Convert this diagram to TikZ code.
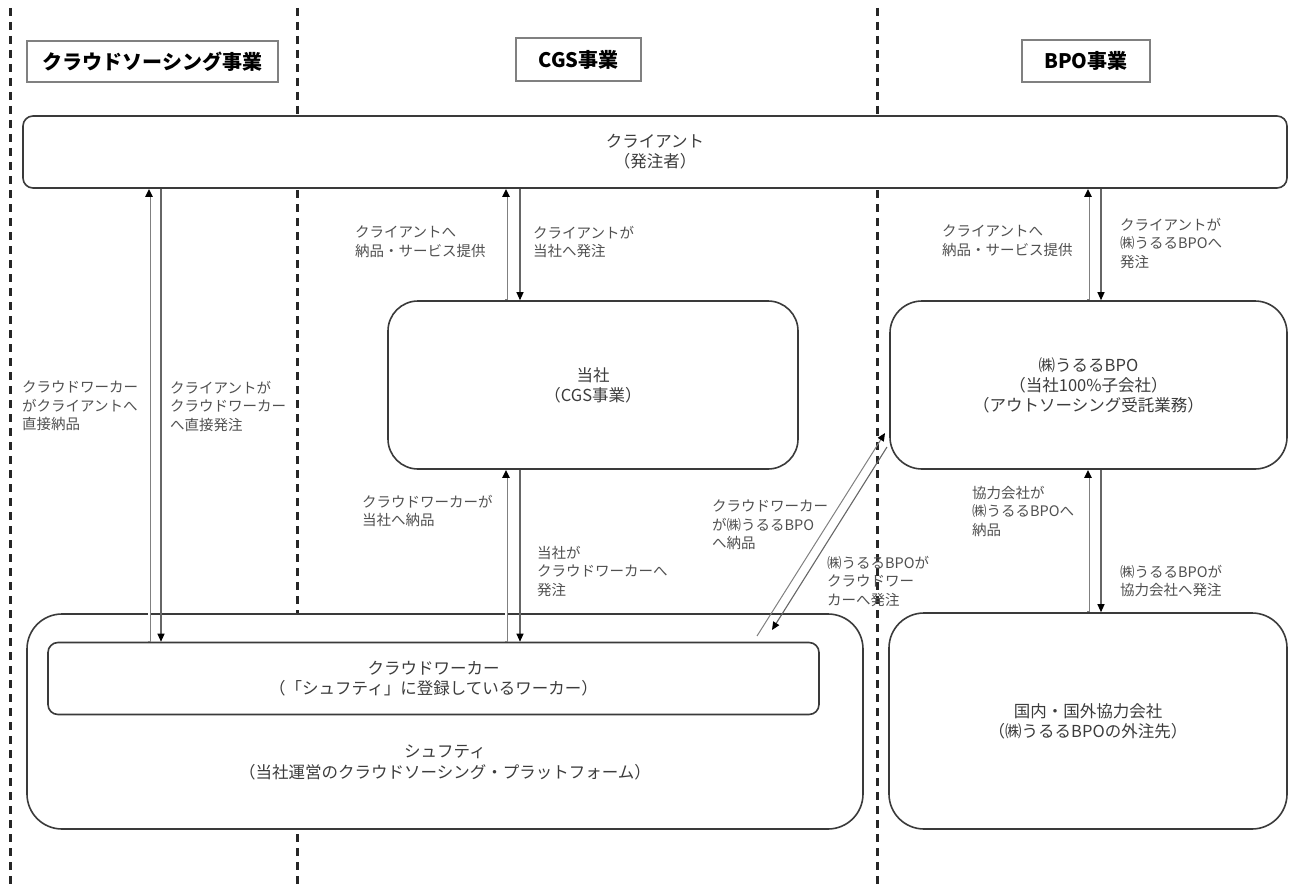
\documentclass[tikz,border=0pt]{standalone}
\usepackage{fontspec}
\setmainfont{Noto Sans CJK JP}
\usetikzlibrary{arrows.meta}
\definecolor{txtgray}{HTML}{505050}
\definecolor{boxtxt}{HTML}{3C3C3C}
\definecolor{lineg}{HTML}{3A3A3A}
\begin{document}
\begin{tikzpicture}[x=1pt,y=-1pt,
  lane/.style={line width=3, dash pattern=on 8 off 6, black!85},
  titlebox/.style={draw=black!50, line width=1.2, fill=white, font=\fontsize{20}{24}\selectfont\bfseries, inner sep=0},
  box/.style={draw=lineg, line width=1.6, fill=white, font=\fontsize{16.5}{20}\selectfont, text=boxtxt, align=center, inner sep=0},
  btext/.style={font=\fontsize{16.5}{21}\selectfont, text=boxtxt, align=center, inner sep=0},
  lbl/.style={font=\fontsize{14.5}{18.5}\selectfont, text=txtgray, align=left, inner sep=0, anchor=north west},
  uparr/.style={draw=black!50, line width=3, -{Triangle[length=8,width=7,black]}, postaction={draw=white, line width=1.1, arrows=-, shorten >=8, shorten <=1}},
  dnarr/.style={draw=black!60, line width=1.1, -{Triangle[length=8,width=7,black]}},
  diagup/.style={draw=black!50, line width=1, -{Triangle[length=8,width=7,black]}},
]
\useasboundingbox (0,0) rectangle (1293,888);
% lane separators
\draw[lane] (10,8) -- (10,888);
\draw[lane] (297,8) -- (297,888);
\draw[lane] (877,8) -- (877,888);

% titles
\node[titlebox, minimum width=251, minimum height=41] (t1) at (152.5,61.5) {クラウドソーシング事業};
\node[titlebox, minimum width=125, minimum height=43] (t2) at (578.5,59.5) {CGS事業};
\node[titlebox, minimum width=128, minimum height=42] (t3) at (1086,61) {BPO事業};

% boxes
\node[box, rounded corners=10, minimum width=1264, minimum height=72] (client) at (655,152) {クライアント\\（発注者）};
\node[box, rounded corners=30, minimum width=410, minimum height=168] (tosha) at (593,385) {当社\\（CGS事業）};
\node[box, rounded corners=32, minimum width=397, minimum height=168] (bpo) at (1088.5,385) {㈱うるるBPO\\（当社100\%子会社）\\（アウトソーシング受託業務）};
\node[box, rounded corners=35, minimum width=836, minimum height=215] (shufti) at (445,721.5) {};
\node[btext] (shuftitext) at (445,762.5) {シュフティ\\（当社運営のクラウドソーシング・プラットフォーム）};
\node[box, rounded corners=10, minimum width=771, minimum height=72] (worker) at (433.5,678.5) {クラウドワーカー\\（「シュフティ」に登録しているワーカー）};
\node[box, rounded corners=35, minimum width=398, minimum height=216] (kyo) at (1088,721) {国内・国外協力会社\\（㈱うるるBPOの外注先）};

% arrow x positions
\coordinate (xa) at (149,0);
\coordinate (xb) at (161,0);
\coordinate (xc) at (506,0);
\coordinate (xd) at (520,0);
\coordinate (xe) at (1088,0);
\coordinate (xf) at (1101,0);
\coordinate (d1a) at (757,636);
\coordinate (d1b) at (885,433);
\coordinate (d2a) at (887,447);
\coordinate (d2b) at (772,630);

\draw[uparr] (worker.north -| xa) -- (client.south -| xa);
\draw[dnarr] (client.south -| xb) -- (worker.north -| xb);
\draw[uparr] (tosha.north -| xc) -- (client.south -| xc);
\draw[dnarr] (client.south -| xd) -- (tosha.north -| xd);
\draw[uparr] (worker.north -| xc) -- (tosha.south -| xc);
\draw[dnarr] (tosha.south -| xd) -- (worker.north -| xd);
\draw[uparr] (bpo.north -| xe) -- (client.south -| xe);
\draw[dnarr] (client.south -| xf) -- (bpo.north -| xf);
\draw[uparr] (kyo.north -| xe) -- (bpo.south -| xe);
\draw[dnarr] (bpo.south -| xf) -- (kyo.north -| xf);
\draw[diagup] (d1a) -- (d1b);
\draw[dnarr] (d2a) -- (d2b);

% labels
\node[lbl] (l1) at (22,381) {クラウドワーカー\\がクライアントへ\\直接納品};
\node[lbl] (l2) at (170,381) {クライアントが\\クラウドワーカー\\へ直接発注};
\node[lbl] (l3) at (355,226) {クライアントへ\\納品・サービス提供};
\node[lbl] (l4) at (533,226) {クライアントが\\当社へ発注};
\node[lbl] (l5) at (942,225) {クライアントへ\\納品・サービス提供};
\node[lbl] (l6) at (1120,218) {クライアントが\\㈱うるるBPOへ\\発注};
\node[lbl] (l7) at (362,495) {クラウドワーカーが\\当社へ納品};
\node[lbl] (l8) at (537,546) {当社が\\クラウドワーカーへ\\発注};
\node[lbl] (l9) at (712,500) {クラウドワーカー\\が㈱うるるBPO\\へ納品};
\node[lbl] (l10) at (827,556) {㈱うるるBPOが\\クラウドワー\\カーへ発注};
\node[lbl] (l11) at (972,486) {協力会社が\\㈱うるるBPOへ\\納品};
\node[lbl] (l12) at (1120,565) {㈱うるるBPOが\\協力会社へ発注};
\end{tikzpicture}
\end{document}
